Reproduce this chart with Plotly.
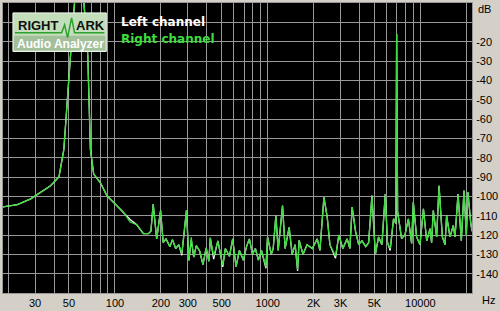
import plotly.graph_objects as go

# ---- data ----
freq_hz = [18.5, 23.0, 28.1, 32.7, 37.9, 43.0, 46.3, 51.2, 55.0, 62.0, 66.4, 69.1, 72.6, 80.3,
           88.7, 100.4, 113.8, 125.7, 139, 153.5, 165.5, 172, 178, 187.6, 199, 207, 216, 229,
           238, 250, 262, 274, 294, 305, 316, 328, 341, 359, 377, 396, 412, 421, 443, 472,
           491, 508, 528, 562, 590, 621, 653, 694, 727, 759, 795, 831, 869, 910, 974, 998,
           1055, 1087, 1132, 1172, 1251, 1301, 1382, 1446, 1513, 1570, 1606, 1704, 1810,
           1958, 2111, 2198, 2335, 2453, 2555, 2781, 2923, 3104, 3313, 3452, 3574, 3759,
           3944, 4145, 4385, 4581, 4816, 5069, 5321, 5595, 5886, 6088, 6341, 6669, 6900,
           6990, 7090, 7240, 7530, 7920, 8340, 8760, 8980, 9440, 9940, 10460, 11000, 11560,
           11840, 12140, 12770, 13240, 13920, 14490, 14840, 15610, 16420, 16840, 17630,
           18530, 19290, 19980, 20480, 21320, 21760]
right_db = [-105.5, -104.3, -101.3, -98.0, -94.5, -90.0, -75.7, -27.0, 5.0, 5.0, -27.0, -75.7,
            -88.5, -93.0, -99.7, -104.0, -108.2, -113.3, -114.7, -119.3, -119.3, -118.0,
            -104.0, -122.0, -107.4, -124.0, -122.0, -126.0, -122.4, -127.0, -125.0, -129.7,
            -107.2, -133.2, -121.2, -131.4, -125.5, -128.4, -135.3, -126.7, -133.6, -121.5,
            -131.0, -123.0, -130.0, -135.6, -127.0, -131.0, -122.0, -136.4, -128.0, -133.0,
            -126.0, -122.0, -130.0, -127.0, -133.0, -128.0, -136.4, -121.0, -130.0, -127.0,
            -110.0, -128.0, -104.8, -127.0, -116.0, -130.0, -125.0, -138.0, -122.7, -130.0,
            -125.0, -127.0, -122.0, -128.0, -100.5, -110.7, -125.0, -131.0, -120.0, -127.0,
            -122.0, -127.0, -105.6, -118.0, -125.0, -123.0, -126.0, -124.0, -99.6, -130.0,
            -121.0, -125.0, -98.8, -124.0, -127.0, -111.6, -114.0, -16.0, -108.0, -112.5,
            -121.9, -120.0, -111.6, -124.4, -103.0, -121.0, -125.0, -106.5, -123.0, -116.7,
            -124.0, -107.3, -121.0, -94.5, -121.0, -125.0, -110.0, -121.0, -115.0, -121.0,
            -98.8, -123.0, -97.0, -120.0, -97.9, -113.3, -118.0]
# left channel differs from the right one only at a few dips
left_overrides = {125.7: -112.0, 274: -130.5, 316: -122.5, 443: -132.5, 508: -136.5,
                  974: -137.2, 1570: -138.6, 2781: -132.0, 6341: -128.0}
left_db = [left_overrides.get(f, d) for f, d in zip(freq_hz, right_db)]

grid_freqs = [20, 30, 40, 50, 60, 70, 80, 90, 100, 200, 300, 400, 500, 600, 700, 800, 900,
              1000, 2000, 3000, 4000, 5000, 6000, 7000, 8000, 9000, 10000, 20000]
x_labels = {30: "30", 50: "50", 100: "100", 200: "200", 300: "300", 500: "500",
            1000: "1000", 2000: "2K", 3000: "3K", 5000: "5K", 10000: "10000"}
db_ticks = [0, -10, -20, -30, -40, -50, -60, -70, -80, -90, -100, -110, -120, -130, -140, -150]
db_labels = ["", "", "-20", "-30", "-40", "-50", "-60", "-70", "-80", "-90", "-100", "-110",
             "-120", "-130", "-140", ""]

W, H = 500, 311
L, R, T, B = 2, 26, 2, 16
PW, PH = W - L - R, H - T - B


def px(x):
    return (x - L) / PW


def py(y):
    return (H - B - y) / PH


fig = go.Figure()
fig.add_trace(go.Scatter(x=freq_hz, y=left_db, mode="lines", name="Left channel",
                         line=dict(color="#FFFFFF", width=1.3), showlegend=False))
fig.add_trace(go.Scatter(x=freq_hz, y=right_db, mode="lines", name="Right channel",
                         line=dict(color="#3CDC3C", width=1.3), showlegend=False))

fig.update_layout(
    width=W, height=H,
    margin=dict(l=L, r=R, t=T, b=B, pad=0),
    paper_bgcolor="#D4D0C8", plot_bgcolor="#000000",
    font=dict(family="Liberation Sans", size=11, color="#000000"),
    xaxis=dict(type="log", range=[1.2672, 4.3377],
               tickvals=grid_freqs, ticktext=[x_labels.get(f, "") for f in grid_freqs],
               showgrid=True, gridcolor="#989898", gridwidth=1, ticks="",
               showline=True, linecolor="#989898", mirror=True, zeroline=False,
               ticklabelstandoff=0),
    yaxis=dict(range=[-150, 0], side="right", tickvals=db_ticks, ticktext=db_labels,
               showgrid=True, gridcolor="#989898", gridwidth=1, ticks="",
               showline=True, linecolor="#989898", mirror=True, zeroline=False,
               ticklabelstandoff=1),
)

# logo box
shapes = [
    dict(type="rect", xref="paper", yref="paper", x0=px(12), x1=px(106), y0=py(51), y1=py(12),
         fillcolor="#C2DEBA", line=dict(color="#F0F4F0", width=1)),
    dict(type="rect", xref="paper", yref="paper", x0=px(13), x1=px(105), y0=py(50), y1=py(35),
         fillcolor="#A3C09B", line=dict(width=0)),
]
zig = [(14, 32), (61, 32), (64, 24), (67, 37), (71, 17), (74, 32), (104, 32)]
path = "M " + " L ".join(f"{px(a)},{py(b)}" for a, b in zig)
shapes.append(dict(type="path", xref="paper", yref="paper", path=path,
                   line=dict(color="#2EA02E", width=1.5)))
fig.update_layout(shapes=shapes)

ann = [
    dict(text="<b>RIGHT</b>", x=px(38), y=py(25), font=dict(size=13, color="#101010")),
    dict(text="<b>ARK</b>", x=px(90), y=py(25), font=dict(size=13, color="#101010")),
    dict(text="<b>Audio Analyzer</b>", x=px(60), y=py(43), font=dict(size=12, color="#FFFFFF")),
    dict(text="<b>Left channel</b>", x=px(119), y=py(21), xanchor="left",
         font=dict(family="DejaVu Sans", size=12, color="#FFFFFF")),
    dict(text="<b>Right channel</b>", x=px(119), y=py(38), xanchor="left",
         font=dict(family="DejaVu Sans", size=12, color="#3CDC3C")),
    dict(text="dB", x=px(478), y=py(8), xanchor="left", font=dict(size=11)),
    dict(text="Hz", x=px(482), y=py(302), xanchor="left", font=dict(size=11)),
]
for a in ann:
    a.setdefault("xanchor", "center")
    fig.add_annotation(xref="paper", yref="paper", showarrow=False, yanchor="middle", **a)

fig.write_html("out.html")
